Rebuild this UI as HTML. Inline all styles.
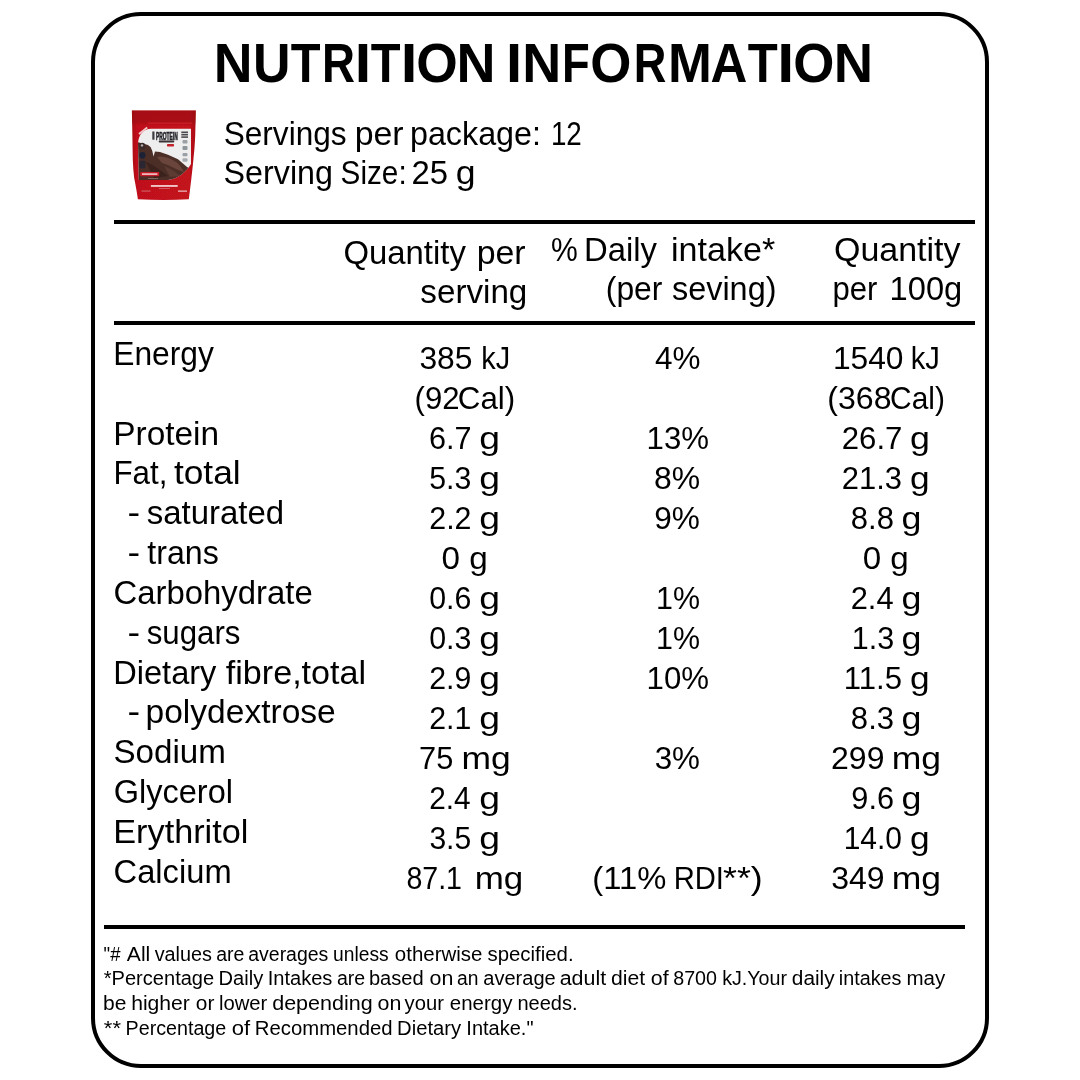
<!DOCTYPE html>
<html lang="en">
<head>
<meta charset="utf-8">
<title>Nutrition Information</title>
<style>
html,body{margin:0;padding:0;background:#fff;}
body{width:1080px;height:1080px;position:relative;overflow:hidden;will-change:transform;font-family:"Liberation Sans",sans-serif;color:#000;}
.frame{position:absolute;left:91px;top:12px;width:890px;height:1048px;border:4px solid #000;border-radius:50px;background:#fff;}
.rule{position:absolute;height:4px;background:#000;}
.ln{position:absolute;left:0;width:1080px;line-height:1;font-weight:400;color:#000;}
.ln.b{font-weight:700;}
.ln span{position:absolute;left:0;top:0;white-space:pre;transform-origin:0 50%;}
.pouch{position:absolute;left:124px;top:104px;width:80px;height:100px;}
</style>
</head>
<body>
<div class="frame"></div>
<div class="rule" style="left:113.6px;top:220.4px;width:861.5px"></div>
<div class="rule" style="left:113.6px;top:321.2px;width:861.5px"></div>
<div class="rule" style="left:104px;top:924.8px;width:861px"></div>
<svg class="pouch" viewBox="0 0 80 100" width="80" height="100" role="img" aria-label="Product pouch">
<defs>
<linearGradient id="pg" x1="0" y1="0" x2="1" y2="0">
<stop offset="0" stop-color="#a80c14"/><stop offset="0.08" stop-color="#c0111b"/><stop offset="0.9" stop-color="#c2121c"/><stop offset="1" stop-color="#a80c14"/>
</linearGradient>
<linearGradient id="pt" x1="0" y1="0" x2="0" y2="1">
<stop offset="0" stop-color="#96080e" stop-opacity="0.6"/><stop offset="0.12" stop-color="#96080e" stop-opacity="0.55"/><stop offset="0.17" stop-color="#96080e" stop-opacity="0"/>
</linearGradient>
<filter id="pb" x="-5%" y="-5%" width="110%" height="110%"><feGaussianBlur stdDeviation="0.45"/></filter>
<clipPath id="pc"><path d="M14,39 C14.6,31 19,25 27,24.7 L67,24.7 L67,60 C62,68 54,75 44,76 L14.8,76 Z"/></clipPath>
</defs>
<g filter="url(#pb)">
<path d="M7.9,6.6 L71.8,6.6 L71.3,27.8 C71,40 70.2,48 69.4,55.6 C68.6,64 66.6,82 64.8,95.2 Q40,96.8 13.9,95.2 C12.6,86 11,78 10.2,74 C9.4,68 9,62 8.8,55.6 L8.3,27.8 Z" fill="url(#pg)"/>
<path d="M7.9,6.6 L71.8,6.6 L71.3,27.8 C71,40 70.2,48 69.4,55.6 C68.6,64 66.6,82 64.8,95.2 Q40,96.8 13.9,95.2 C12.6,86 11,78 10.2,74 C9.4,68 9,62 8.8,55.6 L8.3,27.8 Z" fill="url(#pt)"/>
<rect x="24" y="18.6" width="44" height="1" fill="#d8323a" opacity="0.7"/>
<path d="M14,39 C14.6,31 19,25 27,24.7 L67,24.7 L67,60 C62,68 54,75 44,76 L14.8,76 Z" fill="#efeeee"/>
<g clip-path="url(#pc)">
<path d="M13,38 L16,38.7 L24,41 L26.7,43.3 L28.3,47 L29.5,52.5 L31,47.5 L36,48 L44,50.7 L54,55.3 L62.7,62.7 L68,66 L68,78 L13,78 Z" fill="#4c2d27"/>
<path d="M33,53 C39,51.5 46,54 52,58 C56,61 58,64 60,68 C52,66 46,61 38,59 Z" fill="#6a443a"/>
<path d="M22,58 C28,60 36,66 44,72 L30,74 Z" fill="#3a211d"/>
<path d="M40,62 C46,64 52,68 56,72 L46,73 Z" fill="#5c3a31"/>
</g>
<rect x="15.3" y="38.7" width="6" height="6.6" rx="3" fill="#3a2a2c"/>
<rect x="16.8" y="40.2" width="2.4" height="2.4" rx="1.2" fill="#b8b0b0"/>
<rect x="15.3" y="48" width="6.2" height="6.7" rx="3.1" fill="#1f2436"/>
<rect x="15.3" y="56.7" width="6.2" height="7.6" rx="1.5" fill="#2b2630"/>
<text x="32" y="35.7" font-family="Liberation Sans, sans-serif" font-weight="700" font-size="11.6" textLength="21.7" lengthAdjust="spacingAndGlyphs" fill="#25252a" stroke="#25252a" stroke-width="0.7">PROTEIN</text>
<rect x="28.3" y="27.5" width="2.2" height="8.2" fill="#3b3b40"/>
<rect x="34.7" y="36.6" width="15.6" height="1.9" rx="0.9" fill="#3a3034"/>
<rect x="43" y="40" width="7" height="2.4" rx="0.6" fill="#c4202a"/>
<rect x="57.3" y="27.5" width="6.7" height="1.6" fill="#4a4a4e"/><rect x="57.3" y="29.9" width="6.7" height="1.6" fill="#4a4a4e"/><rect x="57.3" y="32.3" width="6.7" height="1.6" fill="#4a4a4e"/>
<rect x="58.5" y="36" width="5" height="3.5" rx="1" fill="#9aa0a6"/>
<rect x="58.5" y="42" width="5" height="4" rx="1" fill="#8f969c"/>
<rect x="58.5" y="49" width="5" height="3.2" rx="1" fill="#9aa0a6"/>
<rect x="58.5" y="54.2" width="5" height="3.6" rx="1" fill="#a8acb0"/>
<rect x="16.2" y="68" width="19" height="4.2" rx="0.6" fill="#c91f2a"/>
<rect x="18" y="69.3" width="15.4" height="1.6" fill="#f1c9cc"/>
<rect x="24" y="74" width="10" height="0.9" fill="#8a6a64"/>
<rect x="26.9" y="81" width="26.8" height="1.9" fill="#f0c4c7"/>
<rect x="35" y="84" width="11" height="0.8" fill="#d66a70"/>
<rect x="17.5" y="86.4" width="9" height="1.3" fill="#cf555c"/>
<rect x="54" y="86.4" width="9" height="1.5" fill="#e3a0a4"/>
<rect x="0" y="0" width="10.5" height="1.9" fill="#f2c6c8" transform="translate(14.4,29.3) rotate(-38)"/>
</g>
</svg>

<div class="ln b" style="top:36px;font-size:54.8px"><span style="transform:translateX(213.63px) scaleX(0.9791)">N</span><span style="transform:translateX(253.05px) scaleX(0.9484)">U</span><span style="transform:translateX(290.8px) scaleX(0.8896)">T</span><span style="transform:translateX(321.89px) scaleX(0.8331)">R</span><span style="transform:translateX(354.74px) scaleX(1.0768)">I</span><span style="transform:translateX(370.8px) scaleX(0.8896)">T</span><span style="transform:translateX(400.63px) scaleX(1.0910)">I</span><span style="transform:translateX(416.13px) scaleX(0.9732)">O</span><span style="transform:translateX(456.5px) scaleX(0.9851)">N</span> <span style="transform:translateX(506.08px) scaleX(1.0567)">I</span><span style="transform:translateX(522.22px) scaleX(0.9849)">N</span><span style="transform:translateX(561.96px) scaleX(0.8278)">F</span><span style="transform:translateX(590.28px) scaleX(0.9652)">O</span><span style="transform:translateX(633.63px) scaleX(0.8241)">R</span><span style="transform:translateX(668.03px) scaleX(0.9608)">M</span><span style="transform:translateX(710.45px) scaleX(0.9311)">A</span><span style="transform:translateX(747.79px) scaleX(0.8953)">T</span><span style="transform:translateX(777.25px) scaleX(1.1137)">I</span><span style="transform:translateX(793.28px) scaleX(0.9652)">O</span><span style="transform:translateX(833.65px) scaleX(0.9941)">N</span></div>
<div class="ln" style="top:117px;font-size:33px"><span style="transform:translateX(223.67px) scaleX(0.9575)">Servings</span> <span style="transform:translateX(354.64px) scaleX(1.0271)">per</span> <span style="transform:translateX(409.95px) scaleX(0.9785)">package:</span> <span style="transform:translateX(550.89px) scaleX(0.8418)">12</span></div>
<div class="ln" style="top:156px;font-size:33px"><span style="transform:translateX(223.56px) scaleX(0.9777)">Serving</span> <span style="transform:translateX(340.58px) scaleX(0.9006)">Size:</span> <span style="transform:translateX(411.59px) scaleX(0.9960)">25</span> <span style="transform:translateX(455.67px) scaleX(1.0788)">g</span></div>
<div class="ln" style="top:236px;font-size:33px"><span style="transform:translateX(343.41px) scaleX(0.9963)">Quantity</span> <span style="transform:translateX(476.63px) scaleX(1.0273)">per</span></div>
<div class="ln" style="top:275px;font-size:33px"><span style="transform:translateX(420.32px) scaleX(1.0059)">serving</span></div>
<div class="ln" style="top:233px;font-size:33px"><span style="transform:translateX(551.05px) scaleX(0.9119)">%</span> <span style="transform:translateX(584.02px) scaleX(0.9956)">Daily</span> <span style="transform:translateX(671.04px) scaleX(1.0332)">intake*</span></div>
<div class="ln" style="top:272px;font-size:33px"><span style="transform:translateX(605.78px) scaleX(0.9645)">(per</span> <span style="transform:translateX(671.97px) scaleX(0.9823)">seving)</span></div>
<div class="ln" style="top:233px;font-size:33px"><span style="transform:translateX(833.96px) scaleX(1.0301)">Quantity</span></div>
<div class="ln" style="top:272px;font-size:33px"><span style="transform:translateX(832.38px) scaleX(0.9417)">per</span> <span style="transform:translateX(889.62px) scaleX(0.9891)">100g</span></div>
<div class="ln" style="top:337px;font-size:33px"><span style="transform:translateX(113.25px) scaleX(0.9626)">Energy</span></div>
<div class="ln" style="top:417px;font-size:33px"><span style="transform:translateX(113.27px) scaleX(1.0124)">Protein</span></div>
<div class="ln" style="top:456px;font-size:33px"><span style="transform:translateX(113.45px) scaleX(0.9489)">Fat,</span> <span style="transform:translateX(173.89px) scaleX(1.0704)">total</span></div>
<div class="ln" style="top:496px;font-size:33px"><span style="transform:translateX(127.59px) scaleX(1.1482)">-</span> <span style="transform:translateX(146.76px) scaleX(0.9982)">saturated</span></div>
<div class="ln" style="top:536px;font-size:33px"><span style="transform:translateX(127.59px) scaleX(1.1482)">-</span> <span style="transform:translateX(147.36px) scaleX(0.9736)">trans</span></div>
<div class="ln" style="top:576px;font-size:33px"><span style="transform:translateX(113.56px) scaleX(0.9959)">Carbohydrate</span></div>
<div class="ln" style="top:616px;font-size:33px"><span style="transform:translateX(127.59px) scaleX(1.1482)">-</span> <span style="transform:translateX(146.76px) scaleX(0.9460)">sugars</span></div>
<div class="ln" style="top:656px;font-size:33px"><span style="transform:translateX(113.2px) scaleX(0.9873)">Dietary</span> <span style="transform:translateX(225.76px) scaleX(1.0340)">fibre,total</span></div>
<div class="ln" style="top:695px;font-size:33px"><span style="transform:translateX(127.59px) scaleX(1.1482)">-</span> <span style="transform:translateX(145.57px) scaleX(1.0162)">polydextrose</span></div>
<div class="ln" style="top:735px;font-size:33px"><span style="transform:translateX(113.4px) scaleX(1.0048)">Sodium</span></div>
<div class="ln" style="top:775px;font-size:33px"><span style="transform:translateX(113.74px) scaleX(0.9855)">Glycerol</span></div>
<div class="ln" style="top:815px;font-size:33px"><span style="transform:translateX(113.27px) scaleX(1.0379)">Erythritol</span></div>
<div class="ln" style="top:855px;font-size:33px"><span style="transform:translateX(113.57px) scaleX(0.9906)">Calcium</span></div>
<div class="ln" style="top:342px;font-size:32px"><span style="transform:translateX(419.39px) scaleX(0.9940)">385</span> <span style="transform:translateX(481.2px) scaleX(0.9030)">kJ</span></div>
<div class="ln" style="top:382px;font-size:32px"><span style="transform:translateX(414.58px) scaleX(0.9730)">(92</span> <span style="transform:translateX(457.79px) scaleX(0.9790)">Cal)</span></div>
<div class="ln" style="top:422px;font-size:32px"><span style="transform:translateX(428.9px) scaleX(0.9561)">6.7</span> <span style="transform:translateX(479.18px) scaleX(1.1663)">g</span></div>
<div class="ln" style="top:462px;font-size:32px"><span style="transform:translateX(429.17px) scaleX(0.9460)">5.3</span> <span style="transform:translateX(479.18px) scaleX(1.1663)">g</span></div>
<div class="ln" style="top:502px;font-size:32px"><span style="transform:translateX(429.27px) scaleX(0.9490)">2.2</span> <span style="transform:translateX(479.18px) scaleX(1.1663)">g</span></div>
<div class="ln" style="top:542px;font-size:32px"><span style="transform:translateX(441.51px) scaleX(1.0402)">0 g</span></div>
<div class="ln" style="top:582px;font-size:32px"><span style="transform:translateX(429.2px) scaleX(0.9470)">0.6</span> <span style="transform:translateX(479.18px) scaleX(1.1663)">g</span></div>
<div class="ln" style="top:622px;font-size:32px"><span style="transform:translateX(429.21px) scaleX(0.9488)">0.3</span> <span style="transform:translateX(479.18px) scaleX(1.1663)">g</span></div>
<div class="ln" style="top:662px;font-size:32px"><span style="transform:translateX(429.28px) scaleX(0.9462)">2.9</span> <span style="transform:translateX(479.18px) scaleX(1.1663)">g</span></div>
<div class="ln" style="top:702px;font-size:32px"><span style="transform:translateX(429.27px) scaleX(0.9467)">2.1</span> <span style="transform:translateX(479.18px) scaleX(1.1663)">g</span></div>
<div class="ln" style="top:742px;font-size:32px"><span style="transform:translateX(419.11px) scaleX(0.9611)">75</span> <span style="transform:translateX(461.59px) scaleX(1.1078)">mg</span></div>
<div class="ln" style="top:782px;font-size:32px"><span style="transform:translateX(429.27px) scaleX(0.9308)">2.4</span> <span style="transform:translateX(479.18px) scaleX(1.1663)">g</span></div>
<div class="ln" style="top:822px;font-size:32px"><span style="transform:translateX(429.38px) scaleX(0.9402)">3.5</span> <span style="transform:translateX(479.18px) scaleX(1.1663)">g</span></div>
<div class="ln" style="top:862px;font-size:32px"><span style="transform:translateX(406.4px) scaleX(0.8926)">87.1</span> <span style="transform:translateX(474.74px) scaleX(1.0919)">mg</span></div>
<div class="ln" style="top:342px;font-size:32px"><span style="transform:translateX(654.95px) scaleX(0.9820)">4%</span></div>
<div class="ln" style="top:422px;font-size:32px"><span style="transform:translateX(646.54px) scaleX(0.9745)">13%</span></div>
<div class="ln" style="top:462px;font-size:32px"><span style="transform:translateX(654.1px) scaleX(0.9967)">8%</span></div>
<div class="ln" style="top:502px;font-size:32px"><span style="transform:translateX(654.29px) scaleX(0.9875)">9%</span></div>
<div class="ln" style="top:582px;font-size:32px"><span style="transform:translateX(656.03px) scaleX(0.9501)">1%</span></div>
<div class="ln" style="top:622px;font-size:32px"><span style="transform:translateX(656.03px) scaleX(0.9501)">1%</span></div>
<div class="ln" style="top:662px;font-size:32px"><span style="transform:translateX(646.54px) scaleX(0.9745)">10%</span></div>
<div class="ln" style="top:742px;font-size:32px"><span style="transform:translateX(654.64px) scaleX(0.9798)">3%</span></div>
<div class="ln" style="top:862px;font-size:32px"><span style="transform:translateX(592.35px) scaleX(1.0231)">(11%</span> <span style="transform:translateX(673.63px) scaleX(0.9129)">RDI</span> <span style="transform:translateX(723.08px) scaleX(1.1159)">**)</span></div>
<div class="ln" style="top:342px;font-size:32px"><span style="transform:translateX(832.88px) scaleX(0.9923)">1540</span> <span style="transform:translateX(910.78px) scaleX(0.9107)">kJ</span></div>
<div class="ln" style="top:382px;font-size:32px"><span style="transform:translateX(827.3px) scaleX(1.0024)">(368</span> <span style="transform:translateX(890.08px) scaleX(0.9343)">Cal)</span></div>
<div class="ln" style="top:422px;font-size:32px"><span style="transform:translateX(841.78px) scaleX(0.9722)">26.7</span> <span style="transform:translateX(909.96px) scaleX(1.1169)">g</span></div>
<div class="ln" style="top:462px;font-size:32px"><span style="transform:translateX(841.8px) scaleX(0.9672)">21.3</span> <span style="transform:translateX(910.01px) scaleX(1.1035)">g</span></div>
<div class="ln" style="top:502px;font-size:32px"><span style="transform:translateX(850.87px) scaleX(0.9695)">8.8</span> <span style="transform:translateX(901.59px) scaleX(1.1185)">g</span></div>
<div class="ln" style="top:542px;font-size:32px"><span style="transform:translateX(862.66px) scaleX(1.0366)">0 g</span></div>
<div class="ln" style="top:582px;font-size:32px"><span style="transform:translateX(850.68px) scaleX(0.9629)">2.4</span> <span style="transform:translateX(901.59px) scaleX(1.1185)">g</span></div>
<div class="ln" style="top:622px;font-size:32px"><span style="transform:translateX(851.75px) scaleX(0.9529)">1.3</span> <span style="transform:translateX(901.59px) scaleX(1.1185)">g</span></div>
<div class="ln" style="top:662px;font-size:32px"><span style="transform:translateX(843.69px) scaleX(0.9728)">11.5</span> <span style="transform:translateX(910.01px) scaleX(1.1035)">g</span></div>
<div class="ln" style="top:702px;font-size:32px"><span style="transform:translateX(850.87px) scaleX(0.9709)">8.3</span> <span style="transform:translateX(901.59px) scaleX(1.1185)">g</span></div>
<div class="ln" style="top:742px;font-size:32px"><span style="transform:translateX(831.07px) scaleX(1.0001)">299</span> <span style="transform:translateX(891.76px) scaleX(1.1099)">mg</span></div>
<div class="ln" style="top:782px;font-size:32px"><span style="transform:translateX(851.35px) scaleX(0.9586)">9.6</span> <span style="transform:translateX(901.59px) scaleX(1.1185)">g</span></div>
<div class="ln" style="top:822px;font-size:32px"><span style="transform:translateX(843.63px) scaleX(0.9367)">14.0</span> <span style="transform:translateX(910.01px) scaleX(1.1035)">g</span></div>
<div class="ln" style="top:862px;font-size:32px"><span style="transform:translateX(831.18px) scaleX(1.0006)">349</span> <span style="transform:translateX(891.76px) scaleX(1.1099)">mg</span></div>
<div class="ln" style="top:944px;font-size:20px"><span style="transform:translateX(103.57px) scaleX(0.9245)">"#</span> <span style="transform:translateX(126.81px) scaleX(1.0557)">All</span> <span style="transform:translateX(154.68px) scaleX(0.9898)">values</span> <span style="transform:translateX(216.25px) scaleX(0.9756)">are</span> <span style="transform:translateX(248.24px) scaleX(0.9733)">averages</span> <span style="transform:translateX(333.08px) scaleX(0.9619)">unless</span> <span style="transform:translateX(394.86px) scaleX(1.0227)">otherwise</span> <span style="transform:translateX(487.49px) scaleX(1.0188)">specified.</span></div>
<div class="ln" style="top:968px;font-size:20px"><span style="transform:translateX(103.77px) scaleX(1.0030)">*Percentage</span> <span style="transform:translateX(218.58px) scaleX(1.0047)">Daily</span> <span style="transform:translateX(267.67px) scaleX(1.0040)">Intakes</span> <span style="transform:translateX(336.89px) scaleX(0.9773)">are</span> <span style="transform:translateX(368.94px) scaleX(1.0049)">based</span> <span style="transform:translateX(429.5px) scaleX(1.0706)">on</span> <span style="transform:translateX(457px) scaleX(0.9616)">an</span> <span style="transform:translateX(483.36px) scaleX(1.0005)">average</span> <span style="transform:translateX(559.67px) scaleX(1.0710)">adult</span> <span style="transform:translateX(611.08px) scaleX(1.0578)">diet</span> <span style="transform:translateX(650.82px) scaleX(1.0681)">of</span> <span style="transform:translateX(673.2px) scaleX(0.9835)">8700</span> <span style="transform:translateX(722.14px) scaleX(0.9841)">kJ.Your</span> <span style="transform:translateX(791.83px) scaleX(1.0396)">daily</span> <span style="transform:translateX(838.82px) scaleX(0.9881)">intakes</span> <span style="transform:translateX(906.47px) scaleX(1.0252)">may</span></div>
<div class="ln" style="top:993px;font-size:20px"><span style="transform:translateX(103.08px) scaleX(1.0506)">be</span> <span style="transform:translateX(131.13px) scaleX(1.0568)">higher</span> <span style="transform:translateX(195.86px) scaleX(1.0430)">or</span> <span style="transform:translateX(218.9px) scaleX(1.0124)">lower</span> <span style="transform:translateX(272.19px) scaleX(1.0759)">depending</span> <span style="transform:translateX(377.5px) scaleX(1.0706)">on</span> <span style="transform:translateX(404.53px) scaleX(1.0111)">your</span> <span style="transform:translateX(449.86px) scaleX(1.0219)">energy</span> <span style="transform:translateX(517.43px) scaleX(1.0018)">needs.</span></div>
<div class="ln" style="top:1018px;font-size:20px"><span style="transform:translateX(103.83px) scaleX(1.0998)">**</span> <span style="transform:translateX(125.57px) scaleX(0.9838)">Percentage</span> <span style="transform:translateX(231.76px) scaleX(1.1021)">of</span> <span style="transform:translateX(254.79px) scaleX(1.0157)">Recommended</span> <span style="transform:translateX(397.12px) scaleX(1.0108)">Dietary</span> <span style="transform:translateX(466.37px) scaleX(1.0004)">Intake."</span></div>
</body>
</html>
